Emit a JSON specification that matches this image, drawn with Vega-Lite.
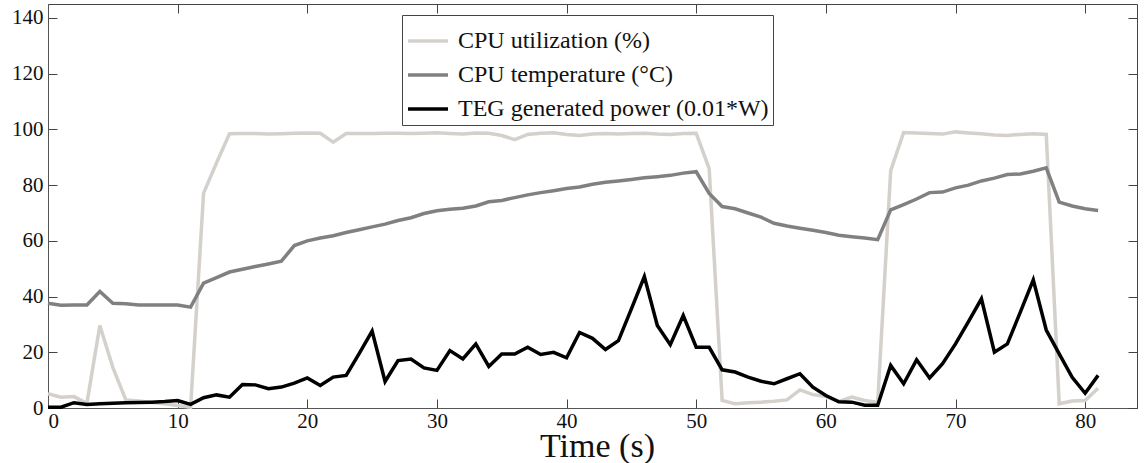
{
  "$schema": "https://vega.github.io/schema/vega-lite/v6.json",
  "width": 1089,
  "height": 404,
  "autosize": "none",
  "padding": {"left": 48, "top": 4, "right": 9, "bottom": 55},
  "background": "white",
  "config": {
    "font": "Liberation Serif",
    "view": {"stroke": "#444", "strokeWidth": 1},
    "axis": {"grid": false, "domainColor": "#555", "tickColor": "#444", "labelColor": "#111", "titleColor": "#111", "labelFont": "Liberation Serif", "labelFontSize": 21}
  },
  "data": {"values": [
    {"t":0,"u":5.1,"c":37.6,"p":0.3},
    {"t":1,"u":3.9,"c":36.9,"p":0.3},
    {"t":2,"u":4.1,"c":37,"p":1.9},
    {"t":3,"u":1.7,"c":37,"p":1.3},
    {"t":4,"u":29.6,"c":41.8,"p":1.5},
    {"t":5,"u":14.6,"c":37.6,"p":1.7},
    {"t":6,"u":2.9,"c":37.4,"p":1.9},
    {"t":7,"u":2.5,"c":37,"p":2},
    {"t":8,"u":2,"c":37,"p":2.1},
    {"t":9,"u":1.5,"c":37,"p":2.3},
    {"t":10,"u":0.9,"c":37,"p":2.7},
    {"t":11,"u":0.3,"c":36.2,"p":1.3},
    {"t":12,"u":77.1,"c":44.8,"p":3.7},
    {"t":13,"u":88,"c":46.8,"p":4.7},
    {"t":14,"u":98.4,"c":48.8,"p":3.9},
    {"t":15,"u":98.5,"c":49.8,"p":8.4},
    {"t":16,"u":98.5,"c":50.8,"p":8.3},
    {"t":17,"u":98.3,"c":51.7,"p":6.9},
    {"t":18,"u":98.4,"c":52.7,"p":7.5},
    {"t":19,"u":98.6,"c":58.3,"p":8.9},
    {"t":20,"u":98.7,"c":60,"p":10.8},
    {"t":21,"u":98.6,"c":61,"p":8.1},
    {"t":22,"u":95.4,"c":61.8,"p":11.1},
    {"t":23,"u":98.5,"c":63,"p":11.7},
    {"t":24,"u":98.5,"c":64,"p":19.5},
    {"t":25,"u":98.5,"c":65,"p":27.6},
    {"t":26,"u":98.6,"c":66,"p":9.5},
    {"t":27,"u":98.6,"c":67.3,"p":17},
    {"t":28,"u":98.5,"c":68.3,"p":17.6},
    {"t":29,"u":98.6,"c":69.8,"p":14.4},
    {"t":30,"u":98.8,"c":70.8,"p":13.5},
    {"t":31,"u":98.5,"c":71.3,"p":20.6},
    {"t":32,"u":98.3,"c":71.7,"p":17.6},
    {"t":33,"u":98.7,"c":72.5,"p":23},
    {"t":34,"u":98.6,"c":74,"p":14.9},
    {"t":35,"u":97.8,"c":74.5,"p":19.4},
    {"t":36,"u":96.3,"c":75.5,"p":19.4},
    {"t":37,"u":98.2,"c":76.5,"p":21.8},
    {"t":38,"u":98.6,"c":77.3,"p":19.2},
    {"t":39,"u":98.8,"c":78,"p":20},
    {"t":40,"u":98.2,"c":78.8,"p":18},
    {"t":41,"u":97.8,"c":79.3,"p":27.1},
    {"t":42,"u":98.3,"c":80.3,"p":25},
    {"t":43,"u":98.5,"c":81,"p":21},
    {"t":44,"u":98.3,"c":81.5,"p":24.2},
    {"t":45,"u":98.5,"c":82,"p":35.6},
    {"t":46,"u":98.6,"c":82.6,"p":47.2},
    {"t":47,"u":98.3,"c":83,"p":29.6},
    {"t":48,"u":98.2,"c":83.5,"p":22.7},
    {"t":49,"u":98.5,"c":84.3,"p":33.2},
    {"t":50,"u":98.6,"c":84.8,"p":21.8},
    {"t":51,"u":85.9,"c":77,"p":21.8},
    {"t":52,"u":2.7,"c":72.3,"p":13.7},
    {"t":53,"u":1.5,"c":71.5,"p":12.9},
    {"t":54,"u":1.9,"c":70,"p":11.1},
    {"t":55,"u":2.1,"c":68.5,"p":9.6},
    {"t":56,"u":2.4,"c":66.3,"p":8.7},
    {"t":57,"u":2.9,"c":65.3,"p":10.5},
    {"t":58,"u":6.5,"c":64.5,"p":12.3},
    {"t":59,"u":4.8,"c":63.8,"p":7.5},
    {"t":60,"u":4.1,"c":63,"p":4.5},
    {"t":61,"u":2.4,"c":62,"p":2.2},
    {"t":62,"u":3.9,"c":61.5,"p":2.1},
    {"t":63,"u":2.7,"c":61,"p":1},
    {"t":64,"u":2,"c":60.4,"p":1},
    {"t":65,"u":85.2,"c":71.1,"p":15.3},
    {"t":66,"u":98.9,"c":73,"p":8.7},
    {"t":67,"u":98.7,"c":75,"p":17.3},
    {"t":68,"u":98.5,"c":77.3,"p":10.8},
    {"t":69,"u":98.3,"c":77.5,"p":15.9},
    {"t":70,"u":99.1,"c":79,"p":23},
    {"t":71,"u":98.7,"c":80,"p":31},
    {"t":72,"u":98.4,"c":81.5,"p":39.2},
    {"t":73,"u":98,"c":82.5,"p":20},
    {"t":74,"u":97.8,"c":83.8,"p":23},
    {"t":75,"u":98.2,"c":84,"p":34.4},
    {"t":76,"u":98.4,"c":85,"p":46},
    {"t":77,"u":98.2,"c":86.2,"p":28},
    {"t":78,"u":1.5,"c":73.9,"p":19.4},
    {"t":79,"u":2.5,"c":72.5,"p":11},
    {"t":80,"u":2.7,"c":71.5,"p":5.3},
    {"t":81,"u":7.1,"c":70.9,"p":11.7}
  ]},
  "transform": [{"fold": ["u", "c", "p"], "as": ["k", "v"]}],
  "layer": [
    {
      "mark": {"type": "line", "strokeWidth": 3.5},
      "encoding": {
        "x": {"field": "t", "type": "quantitative", "scale": {"domain": [0, 84], "nice": false},
              "axis": {"values": [0,10,20,30,40,50,60,70,80], "tickSize": -9, "labelPadding": 11, "labelFont": "Liberation Serif", "labelFontSize": 21, "title": "Time (s)", "titleFont": "Liberation Serif", "titleFontSize": 34, "titleFontWeight": "normal", "titleBaseline": "alphabetic", "titleY": 48.5, "titleX": 549}},
        "y": {"field": "v", "type": "quantitative", "scale": {"domain": [0, 145], "nice": false},
              "axis": {"values": [0,20,40,60,80,100,120,140], "tickSize": -9, "labelPadding": 14, "labelFont": "Liberation Serif", "labelFontSize": 21, "title": null}},
        "color": {"field": "k", "type": "nominal", "sort": ["u", "c", "p"],
                  "scale": {"domain": ["u", "c", "p"], "range": ["#d4d0cc", "#808080", "#000000"]},
                  "legend": {"orient": "none", "legendX": 354, "legendY": 11, "title": null, "symbolType": "stroke", "symbolSize": 1600, "symbolStrokeWidth": 3.5, "labelFont": "Liberation Serif", "labelFontSize": 24, "labelLimit": 500, "labelColor": "#111", "strokeColor": "#444", "fillColor": "white", "padding": 4, "rowPadding": -11, "labelOffset": 8,
                             "labelExpr": "datum.label == 'u' ? 'CPU utilization (%)' : datum.label == 'c' ? 'CPU temperature (°C)' : 'TEG generated power (0.01*W)'"}}
      }
    },
    {
      "mark": {"type": "line", "opacity": 0},
      "encoding": {
        "x": {"field": "t", "type": "quantitative", "axis": {"orient": "top", "values": [0,10,20,30,40,50,60,70,80], "tickSize": -9, "labels": false, "domain": false, "title": null}},
        "y": {"field": "v", "type": "quantitative", "axis": {"orient": "right", "values": [0,20,40,60,80,100,120,140], "tickSize": -9, "labels": false, "domain": false, "title": null}},
        "detail": {"field": "k"}
      }
    }
  ],
  "resolve": {"axis": {"x": "independent", "y": "independent"}}
}
